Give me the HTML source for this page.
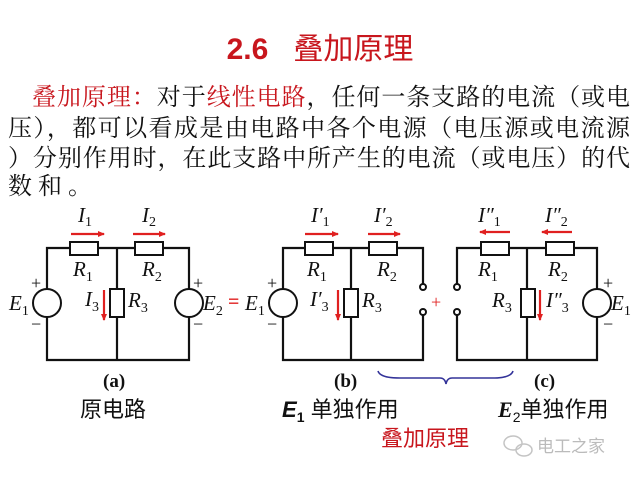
<!DOCTYPE html>
<html><head><meta charset="utf-8"><style>
body{margin:0;width:640px;height:480px;background:#fff;overflow:hidden;position:relative;font-family:"Liberation Serif","Noto Serif CJK SC",serif}
.t{position:absolute;white-space:nowrap}
</style></head><body>
<div class="t" style="left:0;width:640px;top:24px;text-align:center;font-size:30px;color:#c8161d;font-family:'Liberation Sans','Noto Sans CJK SC',sans-serif"><b>2.6</b>&nbsp;&nbsp;&nbsp;叠加原理</div>
<svg width="640" height="480" style="position:absolute;left:0;top:0" font-family="Liberation Serif,serif">
<g font-size="24" fill="#111" font-family="Liberation Serif,Noto Serif CJK SC,serif">
<text x="32" y="105" textLength="598" lengthAdjust="spacing"><tspan fill="#c8161d">叠加原理：</tspan>对于<tspan fill="#c8161d">线性电路</tspan>，任何一条支路的电流（或电</text>
<text x="8" y="136" textLength="622" lengthAdjust="spacing">压），都可以看成是由电路中各个电源（电压源或电流源</text>
<text x="8" y="166" textLength="622" lengthAdjust="spacing">）分别作用时，在此支路中所产生的电流（或电压）的代</text>
<text x="8" y="194" textLength="84" lengthAdjust="spacing">数和。</text>
</g>
<defs><marker id="a" markerWidth="8" markerHeight="8" refX="6" refY="3" orient="auto" markerUnits="userSpaceOnUse"><path d="M0,0L7,3L0,6z" fill="#e02020"/></marker></defs>
<g stroke="#111" stroke-width="2.2" fill="none">
<path d="M47,248H189V360H47Z M117,248V360"/>
<path d="M423,287V248H283V360H423V312 M351,248V360"/>
<path d="M457,287V248H597V360H457V312 M527,248V360"/>
</g>
<g stroke="#111" stroke-width="2" fill="#fff">
<rect x="70" y="242" width="28" height="13"/><rect x="135" y="242" width="28" height="13"/><rect x="110" y="289" width="14" height="28"/>
<circle cx="47" cy="303" r="14"/><circle cx="189" cy="303" r="14"/>
<rect x="305" y="242" width="28" height="13"/><rect x="369" y="242" width="28" height="13"/><rect x="344" y="289" width="14" height="28"/>
<circle cx="283" cy="303" r="14"/>
<rect x="481" y="242" width="28" height="13"/><rect x="546" y="242" width="28" height="13"/><rect x="521" y="289" width="14" height="28"/>
<circle cx="597" cy="303" r="14"/>
<circle cx="423" cy="287" r="3"/><circle cx="423" cy="312" r="3"/><circle cx="457" cy="287" r="3"/><circle cx="457" cy="312" r="3"/>
</g>
<g stroke="#e02020" stroke-width="2.2">
<line x1="71" y1="234" x2="104" y2="234" marker-end="url(#a)"/><line x1="133" y1="234" x2="165" y2="234" marker-end="url(#a)"/><line x1="104" y1="290" x2="104" y2="320" marker-end="url(#a)"/>
<line x1="305" y1="234" x2="338" y2="234" marker-end="url(#a)"/><line x1="368" y1="234" x2="400" y2="234" marker-end="url(#a)"/><line x1="338" y1="290" x2="338" y2="320" marker-end="url(#a)"/>
<line x1="510" y1="232" x2="480" y2="232" marker-end="url(#a)"/><line x1="572" y1="232" x2="542" y2="232" marker-end="url(#a)"/><line x1="540" y1="290" x2="540" y2="320" marker-end="url(#a)"/>
</g>
<g fill="#111" font-style="italic" font-size="21">
<text x="78" y="222">I<tspan font-size="14" dy="4" font-style="normal">1</tspan></text>
<text x="142" y="222">I<tspan font-size="14" dy="4" font-style="normal">2</tspan></text>
<text x="73" y="276">R<tspan font-size="14" dy="5" font-style="normal">1</tspan></text>
<text x="142" y="276">R<tspan font-size="14" dy="5" font-style="normal">2</tspan></text>
<text x="85" y="306">I<tspan font-size="14" dy="5" font-style="normal">3</tspan></text>
<text x="128" y="307">R<tspan font-size="14" dy="5" font-style="normal">3</tspan></text>
<text x="9" y="310">E<tspan font-size="14" dy="5" font-style="normal">1</tspan></text>
<text x="203" y="310">E<tspan font-size="14" dy="5" font-style="normal">2</tspan></text>
<text x="245" y="310">E<tspan font-size="14" dy="5" font-style="normal">1</tspan></text>
<text x="311" y="222">I′<tspan font-size="14" dy="4" font-style="normal">1</tspan></text>
<text x="374" y="222">I′<tspan font-size="14" dy="4" font-style="normal">2</tspan></text>
<text x="307" y="276">R<tspan font-size="14" dy="5" font-style="normal">1</tspan></text>
<text x="377" y="276">R<tspan font-size="14" dy="5" font-style="normal">2</tspan></text>
<text x="310" y="306">I′<tspan font-size="14" dy="5" font-style="normal">3</tspan></text>
<text x="362" y="307">R<tspan font-size="14" dy="5" font-style="normal">3</tspan></text>
<text x="478" y="222">I″<tspan font-size="14" dy="4" font-style="normal">1</tspan></text>
<text x="545" y="222">I″<tspan font-size="14" dy="4" font-style="normal">2</tspan></text>
<text x="478" y="276">R<tspan font-size="14" dy="5" font-style="normal">1</tspan></text>
<text x="548" y="276">R<tspan font-size="14" dy="5" font-style="normal">2</tspan></text>
<text x="492" y="307">R<tspan font-size="14" dy="5" font-style="normal">3</tspan></text>
<text x="546" y="307">I″<tspan font-size="14" dy="5" font-style="normal">3</tspan></text>
<text x="611" y="310">E<tspan font-size="14" dy="5" font-style="normal">1</tspan></text>
</g>
<g fill="#111" font-size="18">
<text x="31" y="289">+</text><text x="31" y="330">−</text>
<text x="193" y="289">+</text><text x="193" y="330">−</text>
<text x="267" y="289">+</text><text x="267" y="330">−</text>
<text x="603" y="289">+</text><text x="603" y="330">−</text>
</g>
<text x="228" y="308" fill="#e02020" font-size="20" font-weight="bold">=</text>
<text x="431" y="308" fill="#e02020" font-size="18">+</text>
<path d="M378,371Q380,378 400,378H440Q445,378 446,384Q447,378 452,378H492Q511,378 513,371" stroke="#333399" stroke-width="1.6" fill="none"/>
<g font-size="19" font-weight="bold" fill="#111">
<text x="103" y="387">(a)</text><text x="334" y="387">(b)</text><text x="534" y="387">(c)</text>
</g>
<g font-size="22" fill="#111" font-family="Liberation Sans,Noto Sans CJK SC,sans-serif">
<text x="80" y="417">原电路</text>
<text x="282" y="417"><tspan font-style="italic" font-weight="bold">E</tspan><tspan font-size="14" dy="5" font-weight="bold">1</tspan><tspan dy="-5"> 单独作用</tspan></text>
<text x="498" y="417"><tspan font-style="italic" font-family="Liberation Serif,serif" font-weight="bold">E</tspan><tspan font-size="14" dy="5">2</tspan><tspan dy="-5">单独作用</tspan></text>
<text x="381" y="446" fill="#c8161d">叠加原理</text>
<text x="537" y="452" fill="#bbb" font-size="17">电工之家</text>
</g>
<g stroke="#c4c4c4" stroke-width="1.5" fill="none"><ellipse cx="513" cy="443" rx="9" ry="7"/><ellipse cx="524" cy="450" rx="8" ry="6"/></g>
</svg>
</body></html>
